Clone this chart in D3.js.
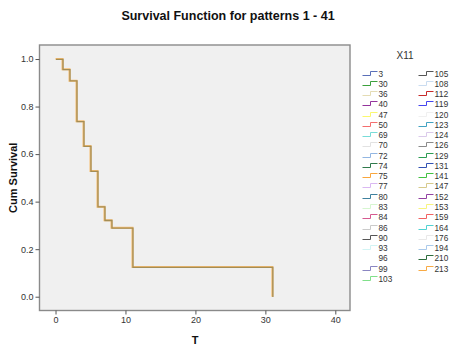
<!DOCTYPE html>
<html>
<head>
<meta charset="utf-8">
<script src="https://cdn.jsdelivr.net/npm/d3@7"></script>
<style>
  html, body { margin: 0; padding: 0; background: #fff; }
  svg { display: block; font-family: "Liberation Sans", Arial, sans-serif; }
</style>
</head>
<body>
<svg id="chart" width="450" height="349"></svg>
<script>
// Kaplan-Meier step function: event times and survival after each step
const times = [0, 1, 2, 3, 4, 5, 6, 7, 8, 11, 31];
const survival = [1.0, 0.957, 0.909, 0.738, 0.634, 0.529, 0.379, 0.322, 0.290, 0.125, 0.0];

const xTicks = [0, 10, 20, 30, 40];
const yTicks = [0.0, 0.2, 0.4, 0.6, 0.8, 1.0];

// Legend entries (pattern values of X11) and their colours
const patternsLeft = ["3", "30", "36", "40", "47", "50", "69", "70", "72", "74", "75", "77", "80", "83", "84", "86", "90", "93", "96", "99", "103"];
const colorsLeft = ["#5a6fb8", "#3ca03c", "#e4dcb4", "#94339c", "#fbf86e", "#f46e6e", "#78dcd8", "#e2e2e2", "#92b6e2", "#2f7a4c", "#f9a63c", "#dab8f2", "#3f819e", "#d6f6d0", "#d65a90", "#cacaca", "#555555", "#d2f4f4", "#ffffff", "#8a86c2", "#80e08a"];
const patternsRight = ["105", "108", "112", "119", "120", "123", "124", "126", "129", "131", "141", "147", "152", "153", "159", "164", "176", "194", "210", "213"];
const colorsRight = ["#555555", "#cadcf0", "#c82a2a", "#4444f0", "#f0f0f0", "#42a2c2", "#dacaea", "#8a8a8a", "#2c9c52", "#3252b2", "#42c242", "#d6ca8c", "#9242a2", "#f8f47e", "#f26262", "#52d2d2", "#e8e8e8", "#aacaea", "#2c6c3c", "#f8aa44"];

const svg = d3.select("#chart");

const plot = { left: 39.5, right: 350, top: 45, bottom: 310.5 };

const x = d3.scaleLinear().domain([-2.29, 42.1]).range([plot.left, plot.right]);
const y = d3.scaleLinear().domain([-0.058, 1.059]).range([plot.bottom, plot.top]);

// Title
svg.append("text")
  .attr("x", 228).attr("y", 20)
  .attr("text-anchor", "middle")
  .attr("font-size", 12.5).attr("font-weight", "bold").attr("fill", "#111")
  .text("Survival Function for patterns 1 - 41");

// Plot background
svg.append("rect")
  .attr("x", plot.left).attr("y", plot.top)
  .attr("width", plot.right - plot.left).attr("height", plot.bottom - plot.top)
  .attr("fill", "#f0f0f0").attr("stroke", "#8a8a8a").attr("stroke-width", 1.4);

// Axes
const xAxis = d3.axisBottom(x).tickValues(xTicks).tickSize(4).tickPadding(2).tickFormat(d3.format("d"));
const yAxis = d3.axisLeft(y).tickValues(yTicks).tickSize(4).tickPadding(2).tickFormat(d3.format(".1f"));

const gx = svg.append("g").attr("transform", `translate(0,${plot.bottom})`).call(xAxis);
const gy = svg.append("g").attr("transform", `translate(${plot.left},0)`).call(yAxis);
[gx, gy].forEach(g => {
  g.select(".domain").remove();
  g.selectAll(".tick line").attr("stroke", "#555");
  g.selectAll(".tick text").attr("font-size", 9).attr("fill", "#333")
    .attr("font-family", "'Liberation Sans', Arial, sans-serif");
});

// Axis titles
svg.append("text")
  .attr("x", 195).attr("y", 344)
  .attr("text-anchor", "middle")
  .attr("font-size", 11).attr("font-weight", "bold").attr("fill", "#111")
  .text("T");
svg.append("text")
  .attr("transform", `translate(17,${(plot.top + plot.bottom) / 2}) rotate(-90)`)
  .attr("text-anchor", "middle")
  .attr("font-size", 11).attr("font-weight", "bold").attr("fill", "#111")
  .text("Cum Survival");

// Survival step curve (several overlapping pattern lines)
const pts = times.map((t, i) => [t, survival[i]]);
const line = d3.line().x(d => x(d[0])).y(d => y(d[1])).curve(d3.curveStepAfter);

svg.append("path")
  .datum(pts)
  .attr("fill", "none").attr("stroke", "#f6bd70").attr("stroke-width", 2)
  .attr("d", line);
svg.append("path")
  .datum(pts)
  .attr("fill", "none").attr("stroke", "#a48d55").attr("stroke-width", 1.3)
  .attr("transform", "translate(0.5,0.3)")
  .attr("d", line);

// Legend
svg.append("text")
  .attr("x", 405).attr("y", 59)
  .attr("text-anchor", "middle")
  .attr("font-size", 10).attr("fill", "#333")
  .text("X11");

const rowY0 = 72.5, rowStep = 10.27;
function legendColumn(labels, colors, x0) {
  const g = svg.append("g");
  labels.forEach((lab, i) => {
    const cy = Math.round(rowY0 + i * rowStep) + 0.5;
    g.append("path")
      .attr("d", `M${x0},${cy + 2}H${x0 + 8}V${cy - 2}H${x0 + 15}`)
      .attr("fill", "none").attr("stroke", colors[i]).attr("stroke-width", 1);
    g.append("text")
      .attr("x", x0 + 16).attr("y", cy + 3.3)
      .attr("font-size", 9).attr("fill", "#333")
      .attr("textLength", lab.length * 4.6).attr("lengthAdjust", "spacingAndGlyphs")
      .text(lab);
  });
}
legendColumn(patternsLeft, colorsLeft, 362.5);
legendColumn(patternsRight, colorsRight, 418.5);
</script>
</body>
</html>
